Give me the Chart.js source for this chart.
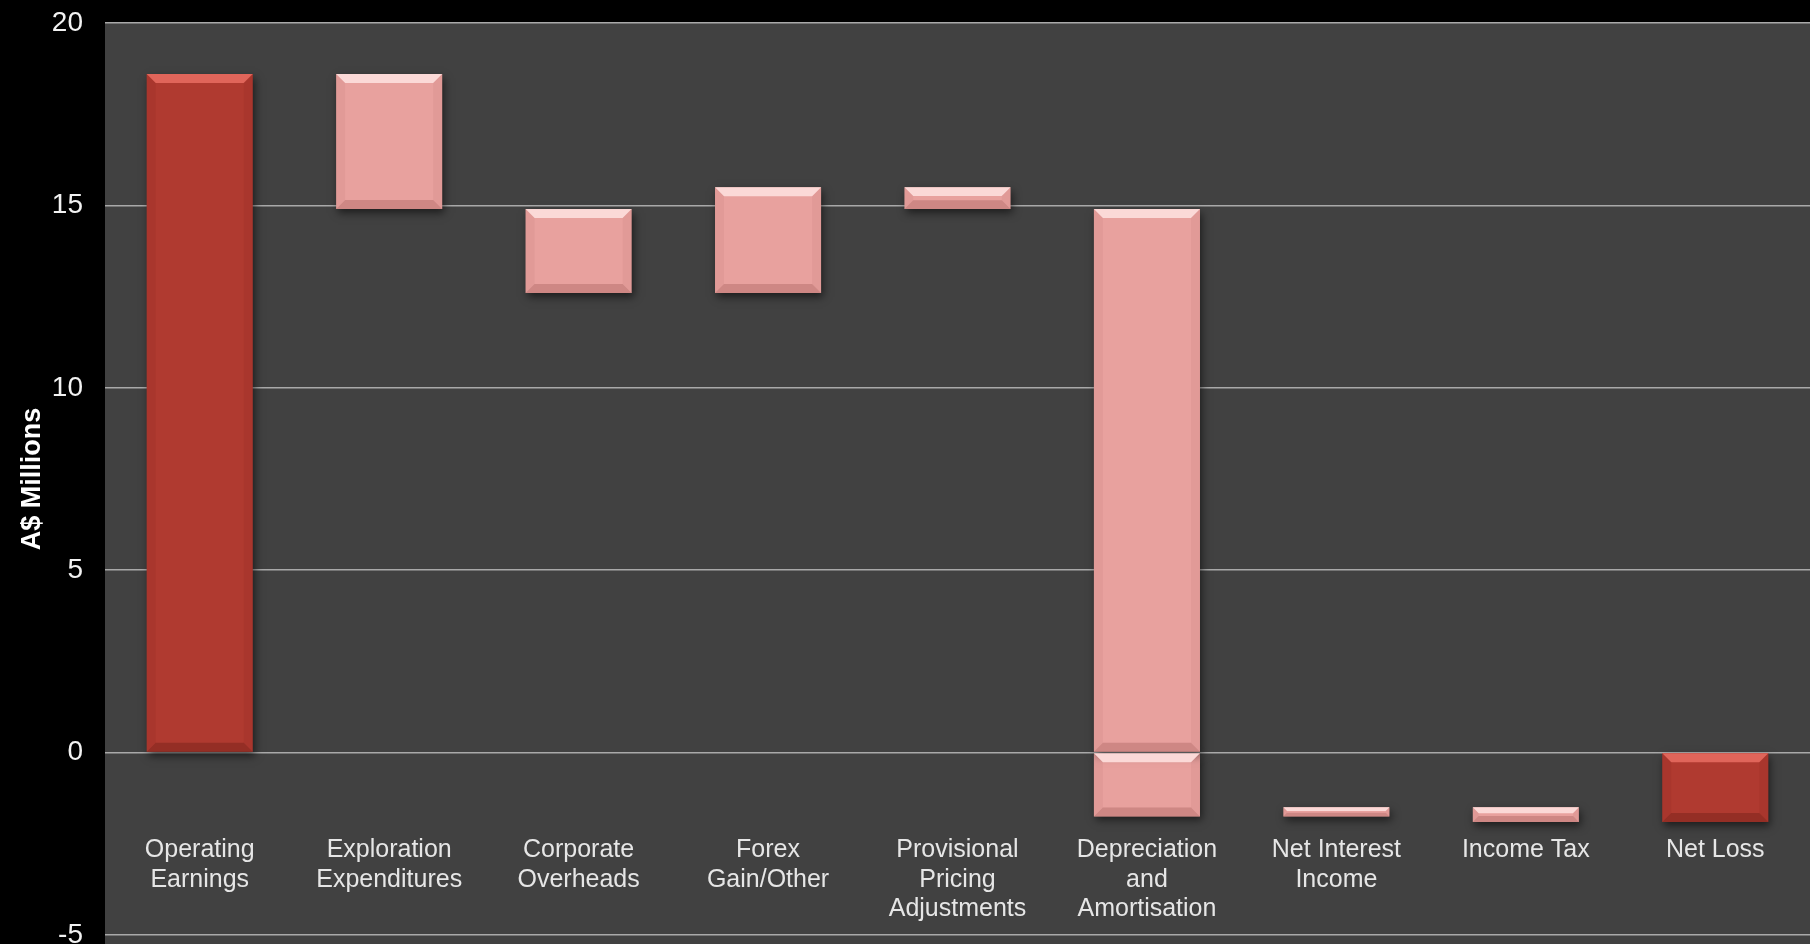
<!DOCTYPE html>
<html>
<head>
<meta charset="utf-8">
<script src="https://cdn.jsdelivr.net/npm/chart.js@4"></script>
<style>
html, body { margin: 0; padding: 0; background: #000; }
#wrap { width: 1810px; height: 944px; }
</style>
</head>
<body>
<div id="wrap"><canvas id="chart" width="1810" height="944"></canvas></div>
<script>
// waterfall: each step runs from barStart to barEnd (A$ millions)
var categories = [
    ['Operating', 'Earnings'],
    ['Exploration', 'Expenditures'],
    ['Corporate', 'Overheads'],
    ['Forex', 'Gain/Other'],
    ['Provisional', 'Pricing', 'Adjustments'],
    ['Depreciation', 'and', 'Amortisation'],
    ['Net Interest', 'Income'],
    ['Income Tax'],
    ['Net Loss']
];
var barStart = [0, 18.6, 14.9, 12.6, 15.5, 14.9, -1.75, -1.5, 0];
var barEnd = [18.6, 14.9, 12.6, 15.5, 14.9, -1.75, -1.5, -1.9, -1.9];
var barKind = ['total', 'step', 'step', 'step', 'step', 'step', 'step', 'step', 'total'];

var yMin = -5, yMax = 20, yStep = 5;

var colors = {
    total: { fill: '#b03a30', light: '#e0655a', dark: '#7d241d' },
    step: { fill: '#e8a19e', light: '#fbd9d7', dark: '#b8726f' }
};

// split bars that cross zero into an upper and a lower piece
var upper = barStart.map(function (s, i) {
    var lo = Math.min(s, barEnd[i]), hi = Math.max(s, barEnd[i]);
    return hi > 0 ? [Math.max(lo, 0), hi] : null;
});
var lower = barStart.map(function (s, i) {
    var lo = Math.min(s, barEnd[i]), hi = Math.max(s, barEnd[i]);
    return lo < 0 ? [lo, Math.min(hi, 0)] : null;
});

var fontFamily = "'Liberation Sans', Arial, sans-serif";

var plotBg = {
    id: 'plotBg',
    beforeDraw: function (chart) {
        var a = chart.chartArea, ctx = chart.ctx;
        ctx.save();
        ctx.fillStyle = '#414141';
        ctx.fillRect(a.left, a.top, chart.width - a.left, chart.height - a.top);
        ctx.restore();
    }
};

var bevel = {
    id: 'bevel',
    beforeDatasetsDraw: function (chart) {
        var ctx = chart.ctx;
        ctx.save();
        ctx.shadowColor = 'rgba(0,0,0,0.55)';
        ctx.shadowBlur = 8;
        ctx.shadowOffsetX = 2;
        ctx.shadowOffsetY = 4;
    },
    afterDatasetsDraw: function (chart) {
        var ctx = chart.ctx;
        ctx.restore();
        chart.data.datasets.forEach(function (ds, di) {
            var meta = chart.getDatasetMeta(di);
            meta.data.forEach(function (bar, i) {
                if (ds.data[i] === null) return;
                var p = bar.getProps(['x', 'y', 'base', 'width'], true);
                var l = p.x - p.width / 2, r = p.x + p.width / 2;
                var t = Math.min(p.y, p.base), b = Math.max(p.y, p.base);
                var d = Math.min(9, (b - t) / 2.5);
                var c = colors[barKind[i]];
                ctx.save();
                // top
                ctx.fillStyle = c.light;
                ctx.beginPath();
                ctx.moveTo(l, t); ctx.lineTo(r, t); ctx.lineTo(r - d, t + d); ctx.lineTo(l + d, t + d);
                ctx.closePath(); ctx.fill();
                // bottom
                ctx.fillStyle = c.dark;
                ctx.globalAlpha = 0.55;
                ctx.beginPath();
                ctx.moveTo(l, b); ctx.lineTo(r, b); ctx.lineTo(r - d, b - d); ctx.lineTo(l + d, b - d);
                ctx.closePath(); ctx.fill();
                // sides
                ctx.globalAlpha = 0.14;
                ctx.beginPath();
                ctx.moveTo(r, t); ctx.lineTo(r, b); ctx.lineTo(r - d, b - d); ctx.lineTo(r - d, t + d);
                ctx.closePath(); ctx.fill();
                ctx.beginPath();
                ctx.moveTo(l, t); ctx.lineTo(l, b); ctx.lineTo(l + d, b - d); ctx.lineTo(l + d, t + d);
                ctx.closePath(); ctx.fill();
                ctx.restore();
            });
        });
    }
};

function barColor(c) {
    return colors[barKind[c.dataIndex]].fill;
}

new Chart(document.getElementById('chart').getContext('2d'), {
    type: 'bar',
    data: {
        labels: categories,
        datasets: [
            { data: upper, backgroundColor: barColor, grouped: false, barPercentage: 0.56, categoryPercentage: 1 },
            { data: lower, backgroundColor: barColor, grouped: false, barPercentage: 0.56, categoryPercentage: 1 }
        ]
    },
    options: {
        responsive: false,
        animation: false,
        layout: { padding: { top: 23, bottom: 9, left: 0, right: 0 } },
        plugins: {
            legend: { display: false },
            tooltip: { enabled: false }
        },
        scales: {
            x: {
                position: { y: -2.27 },
                offset: true,
                grid: { display: false, drawTicks: false },
                border: { display: false },
                ticks: {
                    color: '#e6e6e6',
                    padding: 0,
                    maxRotation: 0,
                    autoSkip: false,
                    font: { family: fontFamily, size: 25, lineHeight: 1.18 }
                }
            },
            y: {
                min: yMin,
                max: yMax,
                grid: { color: '#a9a9a9', lineWidth: 1.5, drawTicks: false },
                border: { display: false },
                ticks: {
                    stepSize: yStep,
                    color: '#f2f2f2',
                    padding: 22,
                    font: { family: fontFamily, size: 28 }
                },
                title: {
                    display: true,
                    text: 'A$ Millions',
                    color: '#ffffff',
                    padding: { top: 16, bottom: 0 },
                    font: { family: fontFamily, size: 27, weight: 'bold' }
                },
                afterFit: function (scale) {
                    scale.width = 105;
                    scale.paddingTop = 0;
                    scale.paddingBottom = 0;
                }
            }
        }
    },
    plugins: [plotBg, bevel]
});
</script>
</body>
</html>
